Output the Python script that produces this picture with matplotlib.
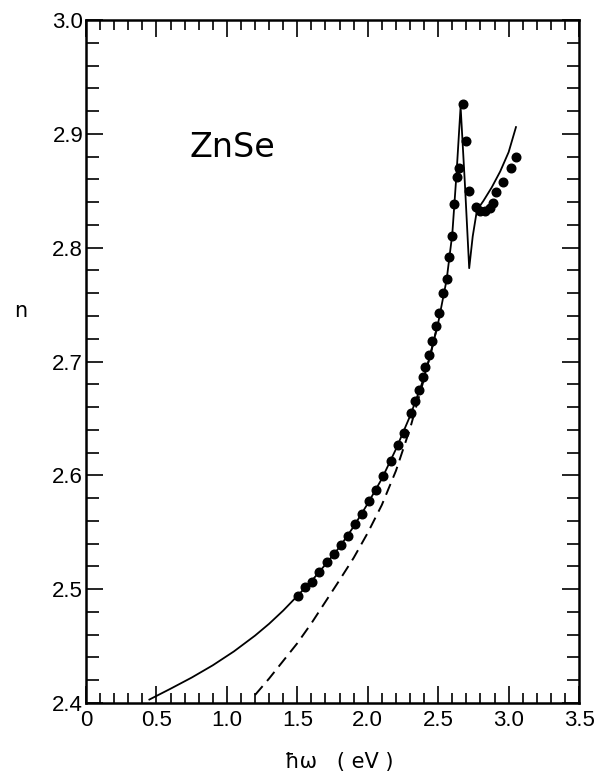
import matplotlib
matplotlib.use("Agg")
import matplotlib.pyplot as plt
from matplotlib.ticker import MultipleLocator, FixedLocator, FormatStrFormatter

plt.rcParams['font.family'] = ['Liberation Sans', 'DejaVu Sans']

# Measured refractive index of ZnSe (dots)
exp_energy = [1.502, 1.557, 1.602, 1.656, 1.713, 1.763, 1.810, 1.862, 1.910,
              1.959, 2.011, 2.058, 2.110, 2.162, 2.214, 2.257, 2.309, 2.335,
              2.363, 2.389, 2.408, 2.432, 2.458, 2.484, 2.508, 2.531, 2.560,
              2.576, 2.596, 2.614, 2.630, 2.648, 2.673, 2.700, 2.722, 2.765,
              2.800, 2.835, 2.865, 2.888, 2.912, 2.957, 3.014, 3.050]
exp_n = [2.4943, 2.5016, 2.5066, 2.5148, 2.5236, 2.5309, 2.5385, 2.5470, 2.5570,
         2.5660, 2.5777, 2.5871, 2.5991, 2.6123, 2.6269, 2.6374, 2.6550, 2.6650,
         2.6750, 2.6866, 2.6949, 2.7057, 2.7183, 2.7312, 2.7429, 2.7599, 2.7722,
         2.7915, 2.8100, 2.8380, 2.8620, 2.8700, 2.9262, 2.8940, 2.8500, 2.8360,
         2.8325, 2.8320, 2.8350, 2.8395, 2.8492, 2.8574, 2.8697, 2.8800]

# Calculated dispersion including the exciton structure (solid)
calc_energy = [0.45, 0.60, 0.75, 0.90, 1.05, 1.20, 1.30, 1.40, 1.50,
               1.60, 1.70, 1.80, 1.90, 2.00, 2.10, 2.20, 2.30, 2.38, 2.44,
               2.50, 2.56, 2.60, 2.63, 2.659, 2.69, 2.720, 2.745, 2.775,
               2.82, 2.88, 2.94, 3.00, 3.052]
calc_n = [2.403, 2.4125, 2.4223, 2.4331, 2.4453, 2.4592, 2.4696, 2.4812, 2.4940,
          2.507, 2.5217, 2.537, 2.555, 2.5752, 2.597, 2.623, 2.652, 2.679, 2.7035,
          2.734, 2.772, 2.812, 2.865, 2.924, 2.855, 2.782, 2.810, 2.833,
          2.841, 2.853, 2.867, 2.884, 2.906]

# Calculated dispersion without excitonic effects (dashed)
band_energy = [1.20, 1.30, 1.40, 1.50, 1.60, 1.70, 1.80, 1.90, 2.00,
               2.10, 2.20, 2.30, 2.40, 2.46, 2.52]
band_n = [2.407, 2.4215, 2.437, 2.4525, 2.470, 2.489, 2.508, 2.5275, 2.5495,
          2.574, 2.604, 2.641, 2.685, 2.714, 2.745]

x_ticks = [0, 0.5, 1.0, 1.5, 2.0, 2.5, 3.0, 3.5]
x_tick_labels = ['0', '0.5', '1.0', '1.5', '2.0', '2.5', '3.0', '3.5']
y_ticks = [2.4, 2.5, 2.6, 2.7, 2.8, 2.9, 3.0]

fig = plt.figure(figsize=(5.97, 7.76), dpi=100)
ax = fig.add_axes([0.144, 0.0941, 0.826, 0.880])

ax.plot(calc_energy, calc_n, color='black', lw=1.3, solid_joinstyle='round')
ax.plot(band_energy, band_n, color='black', lw=1.4, dashes=(6, 3.5))
ax.plot(exp_energy, exp_n, 'o', color='black', ms=6.2, mec='black')

ax.set_xlim(0, 3.5)
ax.set_ylim(2.4, 3.0)
ax.xaxis.set_major_locator(FixedLocator(x_ticks))
ax.set_xticklabels(x_tick_labels)
ax.xaxis.set_minor_locator(MultipleLocator(0.1))
ax.yaxis.set_major_locator(FixedLocator(y_ticks))
ax.yaxis.set_major_formatter(FormatStrFormatter('%.1f'))
ax.yaxis.set_minor_locator(MultipleLocator(0.02))

ax.tick_params(which='both', direction='in', top=True, right=True,
               width=1.2, colors='black', labelsize=16)
ax.tick_params(axis='x', which='major', length=12, pad=5)
ax.tick_params(axis='x', which='minor', length=7)
ax.tick_params(axis='y', which='major', length=12, pad=2)
ax.tick_params(axis='y', which='minor', length=9)
for s in ax.spines.values():
    s.set_linewidth(1.8)

ax.text(1.036, 2.888, 'ZnSe', fontsize=24, ha='center', va='center',
        family=['DejaVu Sans'])

fig.text(0.146 + 0.826 / 2 + 0.01, 0.018, 'ħω   ( eV )', ha='center',
         va='center', fontsize=15, family=['DejaVu Sans'])
fig.text(0.035, 1 - 311 / 776, 'n', ha='center', va='center', fontsize=15,
         family=['DejaVu Sans'])

fig.savefig('out.png', dpi=100)
